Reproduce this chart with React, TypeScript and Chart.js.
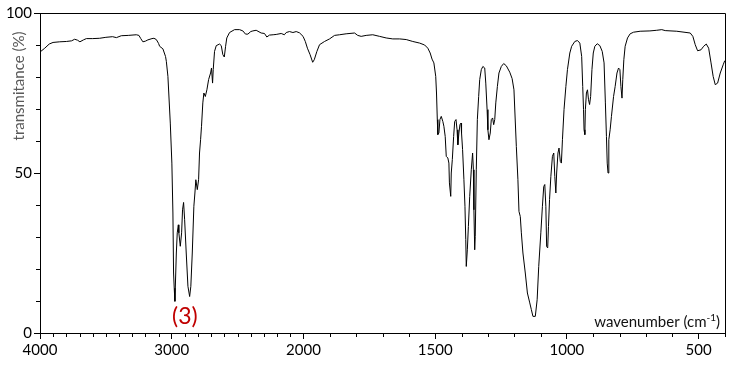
import React, { useEffect, useRef } from 'react';
import { Chart, registerables } from 'chart.js';

Chart.register(...registerables);

// IR spectrum: wavenumber (cm-1) and transmittance (%)
const wavenumbers = [
  4000, 3964, 3930, 3901, 3850, 3800, 3760, 3737, 3715, 3697, 3670, 3648, 3600, 3547, 3500, 3449, 3420, 3383, 3330, 3269,
  3249, 3235, 3219, 3200, 3181, 3150, 3135, 3117, 3100, 3092, 3067, 3047, 3041, 3029, 3011, 2999, 2991, 2986, 2981, 2976,
  2965, 2958, 2950, 2946, 2935, 2925, 2918, 2910, 2902, 2890, 2877, 2864, 2855, 2844, 2832, 2824, 2817, 2806, 2796, 2789,
  2781, 2774, 2764, 2756, 2745, 2733, 2720, 2705, 2698, 2690, 2685, 2675, 2662, 2637, 2624, 2612, 2601, 2591, 2582, 2561,
  2523, 2485, 2460, 2440, 2422, 2400, 2384, 2359, 2321, 2296, 2278, 2258, 2230, 2207, 2169, 2145, 2131, 2106, 2080, 2055,
  2030, 2003, 1993, 1985, 1975, 1965, 1959, 1949, 1939, 1920, 1901, 1882, 1863, 1838, 1806, 1794, 1781, 1762, 1737, 1711,
  1686, 1661, 1635, 1610, 1585, 1559, 1540, 1528, 1519, 1512, 1505, 1498, 1495, 1492, 1490, 1486, 1482, 1477, 1471, 1467,
  1462, 1458, 1452, 1448, 1446, 1441, 1439, 1435, 1430, 1426, 1421, 1417, 1414, 1410, 1406, 1402, 1400, 1396, 1391, 1387,
  1384, 1382, 1378, 1374, 1369, 1363, 1358, 1355, 1353, 1350, 1348, 1344, 1340, 1335, 1331, 1325, 1319, 1312, 1308, 1303,
  1300, 1296, 1291, 1287, 1282, 1278, 1274, 1270, 1264, 1258, 1249, 1240, 1230, 1217, 1208, 1201, 1198, 1192, 1186, 1182,
  1177, 1173, 1167, 1158, 1150, 1141, 1135, 1129, 1120, 1113, 1107, 1099, 1093, 1088, 1084, 1080, 1077, 1073, 1070, 1066,
  1061, 1055, 1050, 1046, 1042, 1039, 1034, 1030, 1025, 1021, 1017, 1011, 1004, 998, 989, 982, 970, 960, 951, 944,
  940, 937, 935, 932, 930, 926, 922, 918, 914, 910, 905, 900, 894, 885, 875, 866, 859, 854, 850, 847,
  844, 841, 836, 831, 823, 817, 810, 804, 799, 795, 791, 788, 784, 779, 770, 760, 747, 722, 685, 659,
  640, 627, 583, 532, 522, 513, 504, 491, 481, 471, 462, 453, 445, 437, 428, 418, 407, 401,
];

const transmittance = [
  87.8, 89, 90.3, 90.8, 91, 91.1, 91.3, 91.8, 91.5, 91, 91.6, 92, 92, 92.1, 92.4, 92.6, 92.3, 92.9, 93, 93.2,
  93, 92, 91, 91.2, 91.6, 92, 92.1, 91.7, 90.5, 89.6, 88.8, 86.4, 84.9, 80.2, 65.6, 53.1, 37.5, 18.75, 14, 9.9,
  25, 31.3, 33.8, 31.3, 27.1, 31.3, 38.5, 40.8, 35.4, 25, 14.6, 11.4, 14.6, 25, 39.6, 43.75, 47.9, 44.8, 47.9, 56.25,
  60.4, 64.6, 71.9, 75, 73.9, 76, 79.2, 81.25, 82.8, 78.1, 82.3, 88, 89.8, 90.3, 89.8, 87, 86.25, 89.6, 92.2, 93.9,
  94.8, 94.8, 94.4, 93.4, 93.4, 94.2, 94.4, 94.6, 93.75, 93.6, 92.5, 93.1, 93.2, 93.3, 93.6, 93.2, 93.9, 94.2, 93.9, 94.2,
  93.8, 92.7, 91.1, 89, 87, 84.6, 85.4, 88, 90.1, 91.1, 91.9, 93, 93.2, 93.5, 93.75, 93, 92.7, 93, 93.2, 92.7,
  92.2, 91.9, 91.9, 91.7, 91.1, 90.6, 90, 89, 87.5, 85.6, 84.4, 80.2, 75, 66.7, 62, 62.5, 66.7, 67.7, 66.1, 64.6,
  61.4, 55.2, 54.7, 53.1, 46.9, 42.7, 50, 54.2, 61.4, 66.1, 66.7, 63.5, 58.8, 62.5, 65.1, 65.6, 62.5, 57.3, 47.9, 39.6,
  29.2, 20.8, 26, 33.3, 42.7, 51, 56.25, 51, 38.5, 26, 30.2, 51, 66.7, 73.9, 79.2, 82.3, 83.3, 82.8, 78.1, 69.8,
  63.5, 60.4, 62.5, 66.7, 67.2, 65.1, 66.7, 71.9, 77, 81.25, 83.3, 84.2, 83.5, 81.5, 79.5, 76, 70, 58.3, 47.9, 38,
  36.4, 31.3, 25, 18.75, 12.5, 9.4, 7.3, 5.2, 5.2, 10.4, 20.8, 31.3, 39.6, 45.8, 46.4, 39.6, 27, 26.6, 33.3, 41.7,
  48.9, 55.2, 56.25, 48.9, 43.75, 50, 56.25, 57.8, 53.6, 53.1, 60.4, 69.8, 77, 82.3, 87.5, 89.6, 91.1, 91.4, 90.6, 86.4,
  77, 69.8, 63.5, 62, 69.8, 75, 76, 72.9, 71.4, 73.9, 82.3, 87.5, 89.6, 90.4, 89.8, 88, 84.4, 71.9, 61.4, 53.1,
  50, 60.4, 63.5, 67.7, 73.9, 77, 81.25, 82.8, 82.3, 77, 73.4, 79.2, 85.4, 89.6, 92.2, 93.5, 94, 94.3, 94.4, 94.6,
  94.8, 94.5, 94.3, 93.75, 92.7, 90.1, 88.2, 88.5, 89.6, 90.3, 89, 84.4, 80.2, 77.6, 78.1, 81.25, 83.8, 85.1,
];

const xTickLabels = [4000, 3000, 2000, 1500, 1000, 500];
const yTickLabels = [0, 50, 100];
const xRange = [400, 4000];
const xMinorStep = 100;
const yMinorStep = 10;
const peakLabel = '(3)';
const peakLabelWavenumber = 2900;
const yTitle = 'transmitance (%)';
const xTitle = 'wavenumber (cm';

// axis is compressed by half above 2000 cm-1
const toAxis = (w: number) => (w > 2000 ? 2000 + (w - 2000) / 2 : w);
const fromAxis = (u: number) => (u > 2000 ? 2000 + (u - 2000) * 2 : u);

const FONT = 'Lato, "Open Sans", sans-serif';

export default function App() {
  const ref = useRef<HTMLCanvasElement | null>(null);

  useEffect(() => {
    document.body.style.margin = '0';
    const canvas = ref.current;
    if (!canvas) return;

    const points = wavenumbers.map((w, i) => ({ x: toAxis(w), y: transmittance[i] }));

    const decor = {
      id: 'decor',
      afterDraw(chart: any) {
        const { ctx, chartArea } = chart;
        const xs = chart.scales.x;
        const ys = chart.scales.y;
        ctx.save();
        ctx.strokeStyle = '#000';
        ctx.lineWidth = 1;
        // frame top and right
        ctx.beginPath();
        ctx.moveTo(Math.round(chartArea.left) + 0.5, Math.round(chartArea.top) + 0.5);
        ctx.lineTo(Math.round(chartArea.right) + 0.5, Math.round(chartArea.top) + 0.5);
        ctx.lineTo(Math.round(chartArea.right) + 0.5, Math.round(chartArea.bottom) + 0.5);
        ctx.stroke();
        // minor x ticks
        ctx.beginPath();
        for (let w = xRange[1]; w >= xRange[0]; w -= xMinorStep) {
          if (xTickLabels.includes(w)) continue;
          const px = Math.round(xs.getPixelForValue(toAxis(w))) + 0.5;
          ctx.moveTo(px, chartArea.bottom);
          ctx.lineTo(px, chartArea.bottom + 4);
        }
        // minor y ticks
        for (let t = 0; t <= 100; t += yMinorStep) {
          if (yTickLabels.includes(t)) continue;
          const py = Math.round(ys.getPixelForValue(t)) + 0.5;
          ctx.moveTo(chartArea.left - 4, py);
          ctx.lineTo(chartArea.left, py);
        }
        ctx.stroke();

        // y title
        ctx.fillStyle = '#595959';
        ctx.font = '15px ' + FONT;
        ctx.translate(19, 86);
        ctx.rotate(-Math.PI / 2);
        ctx.textAlign = 'center';
        ctx.textBaseline = 'middle';
        ctx.fillText(yTitle, 0, 0);
        ctx.setTransform(1, 0, 0, 1, 0, 0);

        // x title with superscript
        ctx.fillStyle = '#111';
        ctx.textBaseline = 'alphabetic';
        ctx.textAlign = 'left';
        ctx.font = '15px ' + FONT;
        const endX = chartArea.right - 5;
        const baseY = chartArea.bottom - 6;
        const supFont = '10px ' + FONT;
        const wMain = ctx.measureText(xTitle).width;
        const wClose = ctx.measureText(')').width;
        ctx.font = supFont;
        const wSup = ctx.measureText('-1').width;
        const x0 = endX - wClose - wSup - wMain;
        ctx.font = '15px ' + FONT;
        ctx.fillText(xTitle, x0, baseY);
        ctx.font = supFont;
        ctx.fillText('-1', x0 + wMain, baseY - 6);
        ctx.font = '15px ' + FONT;
        ctx.fillText(')', x0 + wMain + wSup, baseY);

        // peak label
        ctx.fillStyle = '#c00000';
        ctx.font = '23px ' + FONT;
        ctx.textAlign = 'center';
        ctx.textBaseline = 'middle';
        ctx.fillText(peakLabel, xs.getPixelForValue(toAxis(peakLabelWavenumber)), ys.getPixelForValue(5));
        ctx.restore();
      },
    };

    const chart = new Chart(canvas, {
      type: 'line',
      data: {
        datasets: [
          {
            data: points,
            borderColor: '#000',
            borderWidth: 1,
            pointRadius: 0,
            tension: 0,
            fill: false,
          },
        ],
      },
      options: {
        animation: false,
        responsive: false,
        events: [],
        layout: { padding: { top: 13, right: 13, left: 0, bottom: 0 } },
        plugins: { legend: { display: false }, tooltip: { enabled: false } },
        scales: {
          x: {
            type: 'linear',
            reverse: true,
            min: toAxis(xRange[0]),
            max: toAxis(xRange[1]),
            afterBuildTicks: (scale: any) => {
              scale.ticks = xTickLabels.map((w) => ({ value: toAxis(w) }));
            },
            afterFit: (scale: any) => {
              scale.height = 34;
            },
            ticks: {
              autoSkip: false,
              maxRotation: 0,
              padding: 2,
              color: '#000',
              font: { family: FONT, size: 15 },
              callback: (v: any) => String(Math.round(fromAxis(Number(v)))),
            },
            grid: { drawOnChartArea: false, drawTicks: true, tickLength: 6, color: '#000' },
            border: { display: true, color: '#000', width: 1 },
          },
          y: {
            type: 'linear',
            min: 0,
            max: 100,
            afterBuildTicks: (scale: any) => {
              scale.ticks = yTickLabels.map((t) => ({ value: t }));
            },
            afterFit: (scale: any) => {
              scale.width = 40;
            },
            ticks: {
              padding: 2,
              color: '#000',
              font: { family: FONT, size: 15 },
            },
            grid: { drawOnChartArea: false, drawTicks: true, tickLength: 6, color: '#000' },
            border: { display: true, color: '#000', width: 1 },
          },
        },
      },
      plugins: [decor],
    } as any);

    return () => chart.destroy();
  }, []);

  return <canvas ref={ref} width={738} height={367} style={{ display: 'block' }} />;
}
